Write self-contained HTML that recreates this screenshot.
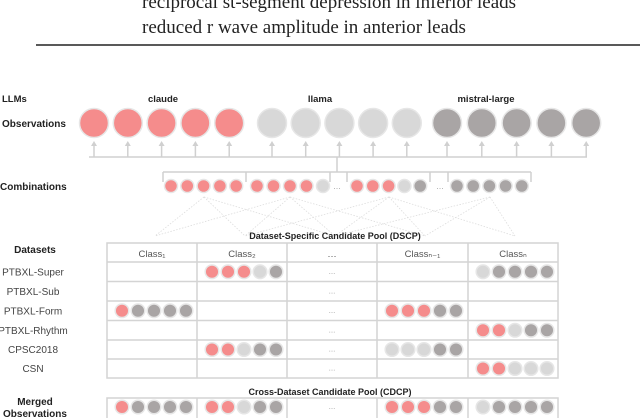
<!DOCTYPE html>
<html><head><meta charset="utf-8"><style>
html,body{margin:0;padding:0;background:#fff;width:640px;height:418px;overflow:hidden}
svg{display:block}
.sf{font-family:"Liberation Serif",serif}
.ss{font-family:"Liberation Sans",sans-serif}
</style></head><body>
<svg id="fig" width="640" height="418" viewBox="0 0 640 418" xmlns="http://www.w3.org/2000/svg">
<text class="sf" x="142" y="8" font-size="19" fill="#222">reciprocal st-segment depression in inferior leads</text>
<text class="sf" x="142" y="33" font-size="19" fill="#222">reduced r wave amplitude in anterior leads</text>
<line x1="36" y1="45" x2="640" y2="45" stroke="#222" stroke-width="1.5"/>
<g id="g"></g>
</svg>
<script>
const COL={p:'#f58c8c',l:'#d8d8d8',d:'#a9a5a5'};
const llms=['claude','llama','mistral-large'];
const llmColors=['p','l','d'];
const combos=['ppppp','ppppl','pppld','ddddd'];
const classes=['Class₁','Class₂','…','Classₙ₋₁','Classₙ'];
const datasets=['PTBXL-Super','PTBXL-Sub','PTBXL-Form','PTBXL-Rhythm','CPSC2018','CSN'];
const cells=[
 ['','pppld','','','ldddd'],
 ['','','','',''],
 ['pdddd','','','pppdd',''],
 ['','','','','ppldd'],
 ['','ppldd','','llldd',''],
 ['','','','','pplll']];
const merged=['pdddd','ppldd','','pppdd','ldddd'];

const NS='http://www.w3.org/2000/svg';
const g=document.getElementById('g');
function el(t,a,name){const e=document.createElementNS(NS,t);for(const k in a)e.setAttribute(k,a[k]);


g.appendChild(e);return e;}
function txt(x,y,s,sz,w,anchor,name,fill){const e=el('text',{x:x,y:y,'font-size':sz,'font-weight':w||'normal','text-anchor':anchor||'start',fill:fill||'#333','class':'ss'},name);e.textContent=s;return e;}
function dot(cx,cy,r,c,name){el('circle',{cx:cx,cy:cy,r:r,fill:COL[c],stroke:'#e6e6e6','stroke-width':1.5},name);}

txt(2,102,'LLMs',9.5,'bold','start','llms-label','#222');
txt(2,127,'Observations',10,'bold','start','observations-label','#222');
txt(0,190,'Combinations',10,'bold','start','combinations-label','#222');
const gx=[163,320,486];
llms.forEach((n,i)=>txt(gx[i],102,n,9.5,'bold','middle','llm-label-'+n,'#222'));
const lc='#d0d0d0';
el('line',{x1:89,y1:157,x2:587,y2:157,stroke:lc,'stroke-width':1.5},'connector-line');
el('line',{x1:337,y1:157,x2:337,y2:172,stroke:lc,'stroke-width':1.5},'connector-stem');
el('line',{x1:163,y1:172,x2:531,y2:172,stroke:lc,'stroke-width':1.5},'combo-bracket');
[163,246,330,347,430,448,531].forEach(x=>el('line',{x1:x,y1:172,x2:x,y2:182,stroke:lc,'stroke-width':1.5},'bracket-tick'));
const ox0=[94,272,447],osp=[33.8,33.7,34.8];
llms.forEach((n,i)=>{for(let j=0;j<5;j++){const cx=ox0[i]+j*osp[i];
 el('line',{x1:cx,y1:157,x2:cx,y2:145,stroke:lc,'stroke-width':1.5},'arrow-shaft');
 el('path',{d:`M${cx-3},${146} L${cx},${141} L${cx+3},${146}Z`,fill:lc},'arrow-head');
 dot(cx,123,14.5,llmColors[i],'observation-'+n+'-'+(j+1));}});
const cx0=[171,257,357,457],csp=[16.3,16.5,15.8,16.2];
combos.forEach((s,i)=>{[...s].forEach((c,j)=>dot(cx0[i]+j*csp[i],186,6.5,c,'combination-'+(i+1)+'-dot'));});
txt(337,189,'…',8,'normal','middle','combo-ellipsis','#999');
txt(440,189,'…',8,'normal','middle','combo-ellipsis','#999');
const src=[204,290,389,490],dst=[155,245,335,425,515];
src.forEach(s=>dst.forEach(d=>{if(Math.abs(s-d)<200)el('line',{x1:s,y1:197,x2:d,y2:236,stroke:'#ddd','stroke-width':0.8,'stroke-dasharray':'1.5,1.5'},'combination-link');}));
const TX=[107,197,287,377,468,558];
const RY=[243,262,281.5,301,320.5,340,359,378];
txt(335,239,'Dataset-Specific Candidate Pool (DSCP)',9,'bold','middle','dscp-title','#222');
txt(35,253,'Datasets',10,'bold','middle','datasets-label','#222');
el('rect',{x:107,y:243,width:451,height:135,fill:'#fff',stroke:'#d4d4d4','stroke-width':1.5},'dscp-table');
for(let k=1;k<5;k++)el('line',{x1:TX[k],y1:243,x2:TX[k],y2:378,stroke:'#d4d4d4','stroke-width':1.5},'column-divider');
for(let r=1;r<7;r++)el('line',{x1:107,y1:RY[r],x2:558,y2:RY[r],stroke:'#d4d4d4','stroke-width':1.5},'row-divider');
classes.forEach((c,k)=>txt((TX[k]+TX[k+1])/2,257,c,9.5,'normal','middle','class-header-'+(k+1),'#555'));
datasets.forEach((d,r)=>{const cy=(RY[r+1]+RY[r+2])/2;
 txt(33,cy+3.5,d,10,'normal','middle','dataset-label-'+d,'#444');
 txt((TX[2]+TX[3])/2,cy+2,'…',7,'normal','middle','row-ellipsis','#888');
 cells[r].forEach((s,k)=>[...s].forEach((c,j)=>dot(TX[k]+15+j*16,cy,6.8,c,'cell-dot-'+d+'-'+(k+1))));});
txt(330,395,'Cross-Dataset Candidate Pool (CDCP)',9,'bold','middle','cdcp-title','#222');
txt(35,405,'Merged',10,'bold','middle','merged-label','#222');
txt(35,417,'Observations',10,'bold','middle','merged-label-2','#222');
el('rect',{x:107,y:398,width:451,height:25,fill:'#fff',stroke:'#d4d4d4','stroke-width':1.5},'cdcp-row');
for(let k=1;k<5;k++)el('line',{x1:TX[k],y1:398,x2:TX[k],y2:418,stroke:'#d4d4d4','stroke-width':1.5},'column-divider');
txt((TX[2]+TX[3])/2,409,'…',7,'normal','middle','merged-ellipsis','#888');
merged.forEach((s,k)=>[...s].forEach((c,j)=>dot(TX[k]+15+j*16,407,6.8,c,'merged-dot-'+(k+1))));
</script>
</body></html>
